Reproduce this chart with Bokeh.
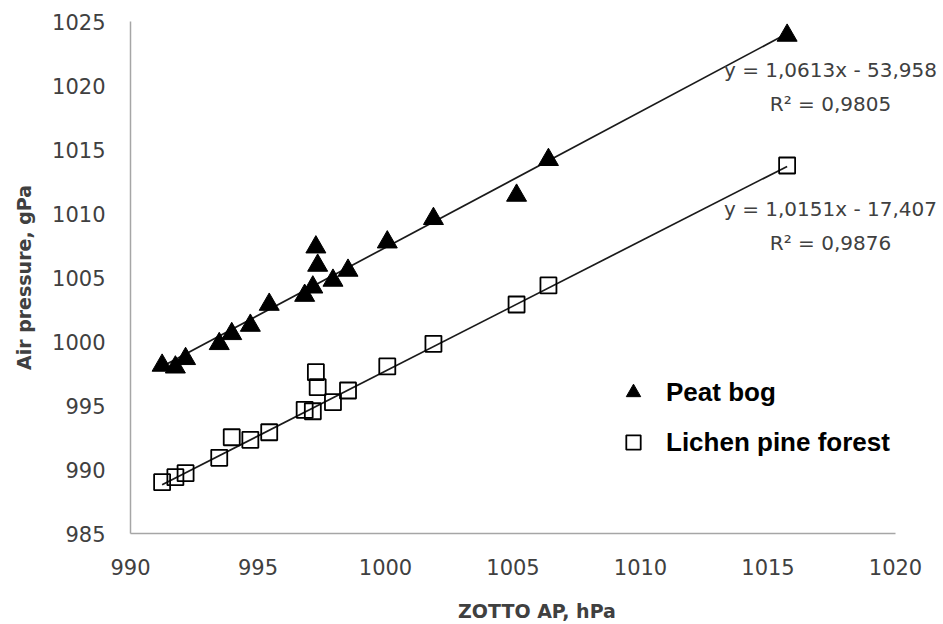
from bokeh.plotting import figure
from bokeh.models import Range1d, Legend, LegendItem, Label, FixedTicker
from bokeh.embed import file_html
from bokeh.resources import INLINE

# ---- data ----
zotto_ap = [991.24, 991.76, 992.16, 993.48, 993.97, 994.70, 995.44, 996.83, 997.15,
            997.27, 997.34, 997.94, 998.53, 1000.07, 1001.88, 1005.14, 1006.39, 1015.75]
peat_bog = [998.13, 997.99, 998.65, 999.82, 1000.60, 1001.25, 1002.89, 1003.59, 1004.24,
            1007.37, 1005.94, 1004.77, 1005.55, 1007.76, 1009.59, 1011.41, 1014.20, 1023.91]
lichen_pine = [989.01, 989.40, 989.71, 990.91, 992.52, 992.32, 992.91, 994.66, 994.55,
               997.60, 996.43, 995.26, 996.17, 998.05, 999.82, 1002.89, 1004.38, 1013.75]

peat_slope, peat_intercept = 1.0613, -53.958
lichen_slope, lichen_intercept = 1.0151, -17.407
peat_eq = ["y = 1,0613x - 53,958", "R² = 0,9805"]
lichen_eq = ["y = 1,0151x - 17,407", "R² = 0,9876"]

x_ticks = [990, 995, 1000, 1005, 1010, 1015, 1020]
y_ticks = [985, 990, 995, 1000, 1005, 1010, 1015, 1020, 1025]

TICK_FONT = "DejaVu Sans"
TICK_COLOR = "#404040"

# frame runs to the right edge so the equation labels are not clipped;
# the x axis line itself is limited to 990..1020 via bounds
x_end = x_ticks[-1] + 48 / 25.5
p = figure(width=943, height=624, output_backend="svg", toolbar_location=None,
           x_range=Range1d(x_ticks[0], x_end), y_range=Range1d(y_ticks[0], y_ticks[-1]),
           min_border_left=130, min_border_right=0, min_border_top=21, min_border_bottom=91)
p.frame_width = 813
p.frame_height = 512
p.outline_line_color = None
p.background_fill_color = "white"
p.border_fill_color = "white"
p.xgrid.visible = False
p.ygrid.visible = False

for ax in (p.xaxis[0], p.yaxis[0]):
    ax.axis_line_color = "#a6a6a6"
    ax.axis_line_width = 1.5
    ax.major_tick_line_color = None
    ax.minor_tick_line_color = None
    ax.major_tick_out = 0
    ax.major_tick_in = 0
    ax.major_label_text_font = TICK_FONT
    ax.major_label_text_font_size = "21px"
    ax.major_label_text_color = TICK_COLOR
    ax.axis_label_text_font = "DejaVu Sans"
    ax.axis_label_text_font_style = "bold"
    ax.axis_label_text_font_size = "19px"
    ax.axis_label_text_color = "#404040"

p.xaxis.bounds = (x_ticks[0], x_ticks[-1])
p.xaxis.ticker = FixedTicker(ticks=x_ticks)
p.yaxis.ticker = FixedTicker(ticks=y_ticks)
p.xaxis.major_label_standoff = 25
p.yaxis.major_label_standoff = 25
p.xaxis.axis_label = "ZOTTO AP, hPa"
p.yaxis.axis_label = "Air pressure, gPa"
p.xaxis.axis_label_standoff = 22
p.yaxis.axis_label_standoff = 14

# trend lines
x_lo, x_hi = min(zotto_ap), max(zotto_ap)
p.line([x_lo, x_hi], [peat_slope * x_lo + peat_intercept, peat_slope * x_hi + peat_intercept],
       line_color="#1a1a1a", line_width=1.7)
p.line([x_lo, x_hi], [lichen_slope * x_lo + lichen_intercept, lichen_slope * x_hi + lichen_intercept],
       line_color="#1a1a1a", line_width=1.7)

r_peat = p.scatter(zotto_ap, peat_bog, marker="triangle", size=20,
                   fill_color="black", line_color="black")
r_lichen = p.scatter(zotto_ap, lichen_pine, marker="square", size=16,
                     fill_color=None, line_color="black", line_width=1.8)

legend = Legend(items=[LegendItem(label="Peat bog", renderers=[r_peat]),
                       LegendItem(label="Lichen pine forest", renderers=[r_lichen])],
                location=(485, 73), orientation="vertical",
                glyph_width=36, glyph_height=36, label_height=36, spacing=14,
                label_standoff=15, padding=0, margin=0,
                border_line_color=None, background_fill_color=None,
                label_text_font="Liberation Sans", label_text_font_style="bold",
                label_text_font_size="26px", label_text_color="black")
p.add_layout(legend)

# trendline equation labels
for (txt, yv) in [(peat_eq[0], 1021.25), (peat_eq[1], 1018.59),
                  (lichen_eq[0], 1010.39), (lichen_eq[1], 1007.66)]:
    p.add_layout(Label(x=1017.45, y=yv, text=txt, text_align="center", text_baseline="middle",
                       text_font="DejaVu Sans", text_font_size="20px", text_color="#404040"))

open("out.html", "w").write(file_html(p, INLINE))
